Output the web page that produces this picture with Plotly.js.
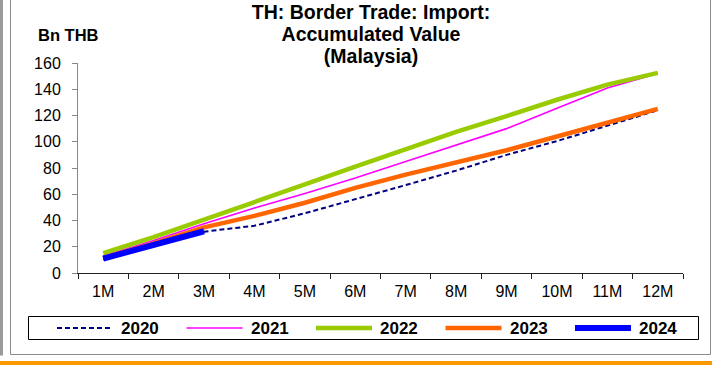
<!DOCTYPE html>
<html>
<head>
<meta charset="utf-8">
<script src="https://cdn.plot.ly/plotly-3.0.1.min.js"></script>
<style>
html,body{margin:0;padding:0;background:#fff;}
#chart{width:712px;height:365px;}
</style>
</head>
<body>
<div id="chart"></div>
<script>
// ---- data ----
var months = ['1M','2M','3M','4M','5M','6M','7M','8M','9M','10M','11M','12M'];
var seriesNames = ['2020','2021','2022','2023','2024'];
var v2020 = [10.5, 20.5, 31.5, 36, 45.5, 56, 67, 78, 90, 100.5, 112, 124];
var v2021 = [13, 24.8, 37.6, 49.5, 60.5, 72.4, 85, 97.4, 110, 125.5, 141, 152];
var v2022 = [15.2, 27.4, 40.6, 54.5, 67.5, 81, 94.5, 107.5, 119.5, 132, 143.5, 152.5];
var v2023 = [11.5, 22.5, 34.8, 43.5, 53.5, 64.8, 75, 84.6, 93.5, 104, 114.8, 125];
var v2024 = [11, 21.5, 31.8];
var yTicks = [0, 20, 40, 60, 80, 100, 120, 140, 160];
var titleLines = ['TH: Border Trade: Import:', 'Accumulated Value', '(Malaysia)'];

// ---- styles ----
var seriesValues = [v2020, v2021, v2022, v2023, v2024];
var styles = [
  {color:'#000080', width:2, dash:'5px,3px'},
  {color:'#FF00FF', width:1.6, dash:'solid'},
  {color:'#99CC00', width:4.5, dash:'solid'},
  {color:'#FF6600', width:4.5, dash:'solid'},
  {color:'#0000FF', width:6, dash:'solid'}
];

var traces = seriesValues.map(function(vals, i){
  return {
    type:'scatter', mode:'lines',
    x: months.slice(0, vals.length), y: vals,
    name: seriesNames[i],
    line:{color:styles[i].color, width:styles[i].width, dash:styles[i].dash},
    showlegend:false, hoverinfo:'skip'
  };
});

var L = 78, R = 29, T = 63, B = 92, W = 712, H = 365;
var pw = W - L - R, ph = H - T - B;
function xp(px){ return (px - L) / pw; }
function yp(py){ return (H - B - py) / ph; }

var shapes = [];
var annotations = [];
var FONT = 'Liberation Sans, Arial, sans-serif';

// frame
shapes.push({type:'line', xref:'paper', yref:'paper', x0:xp(1.5), x1:xp(1.5), y0:yp(0), y1:yp(355.5), line:{color:'#9a9a9a', width:3}});
shapes.push({type:'line', xref:'paper', yref:'paper', x0:xp(10.5), x1:xp(10.5), y0:yp(0), y1:yp(354.5), line:{color:'#8a8a8a', width:1}});
shapes.push({type:'line', xref:'paper', yref:'paper', x0:xp(10.5), x1:xp(710.5), y0:yp(354.5), y1:yp(354.5), line:{color:'#8a8a8a', width:1}});
shapes.push({type:'line', xref:'paper', yref:'paper', x0:xp(710.5), x1:xp(710.5), y0:yp(0), y1:yp(354.5), line:{color:'#8a8a8a', width:1}});
shapes.push({type:'line', xref:'paper', yref:'paper', x0:xp(0), x1:xp(712), y0:yp(363), y1:yp(363), line:{color:'#FF9900', width:4}});

// legend box
shapes.push({type:'rect', xref:'paper', yref:'paper', x0:xp(28.5), x1:xp(698.5), y0:yp(316.5), y1:yp(339.5), line:{color:'#000', width:1}, fillcolor:'rgba(0,0,0,0)'});
seriesNames.forEach(function(n, i){
  var x0 = 57 + 129.5*i;
  shapes.push({type:'line', xref:'paper', yref:'paper', x0:xp(x0), x1:xp(x0+56), y0:yp(328), y1:yp(328),
    line:{color:styles[i].color, width:styles[i].width, dash:styles[i].dash}});
  annotations.push({xref:'paper', yref:'paper', x:xp(x0+62), y:yp(328), xanchor:'left', yanchor:'middle',
    text:'<b>'+n+'</b>', showarrow:false, font:{size:17, color:'#000', family:FONT}});
});

// unit label
annotations.push({xref:'paper', yref:'paper', x:xp(68.5), y:yp(35), xanchor:'center', yanchor:'middle',
  text:'<b>Bn THB</b>', showarrow:false, font:{size:16.5, color:'#000', family:FONT}});

var layout = {
  width:W, height:H,
  margin:{l:L, r:R, t:T, b:B, pad:0},
  paper_bgcolor:'#fff', plot_bgcolor:'#fff',
  font:{family:FONT, size:16, color:'#000'},
  title:{
    text: titleLines.map(function(s){ return '<span style="font-size:19.5px"><b>'+s+'</b></span>'; }).join('<br>'),
    font:{size:17, color:'#000', family:FONT},
    x:371/W, xanchor:'center', xref:'container',
    y:1 - 18.5/H, yanchor:'top', yref:'container'
  },
  xaxis:{
    type:'category', categoryorder:'array', categoryarray:months,
    range:[-0.5, 11.5], tickson:'boundaries',
    showline:true, linecolor:'#222', linewidth:1,
    ticks:'outside', ticklen:5, tickcolor:'#222', tickwidth:1,
    showgrid:false, zeroline:false,
    tickfont:{size:16, color:'#000'},
    ticklabelstandoff:4,
    fixedrange:true
  },
  yaxis:{
    range:[0,160], tickmode:'array', tickvals:yTicks,
    ticktext:yTicks.map(String),
    showline:true, linecolor:'#888', linewidth:1,
    ticks:'outside', ticklen:5, tickcolor:'#888', tickwidth:1,
    showgrid:false, zeroline:false,
    tickfont:{size:16, color:'#000'},
    ticklabelstandoff:8,
    fixedrange:true
  },
  shapes:shapes,
  annotations:annotations,
  showlegend:false
};

Plotly.newPlot('chart', traces, layout, {staticPlot:true, displayModeBar:false});
</script>
</body>
</html>
